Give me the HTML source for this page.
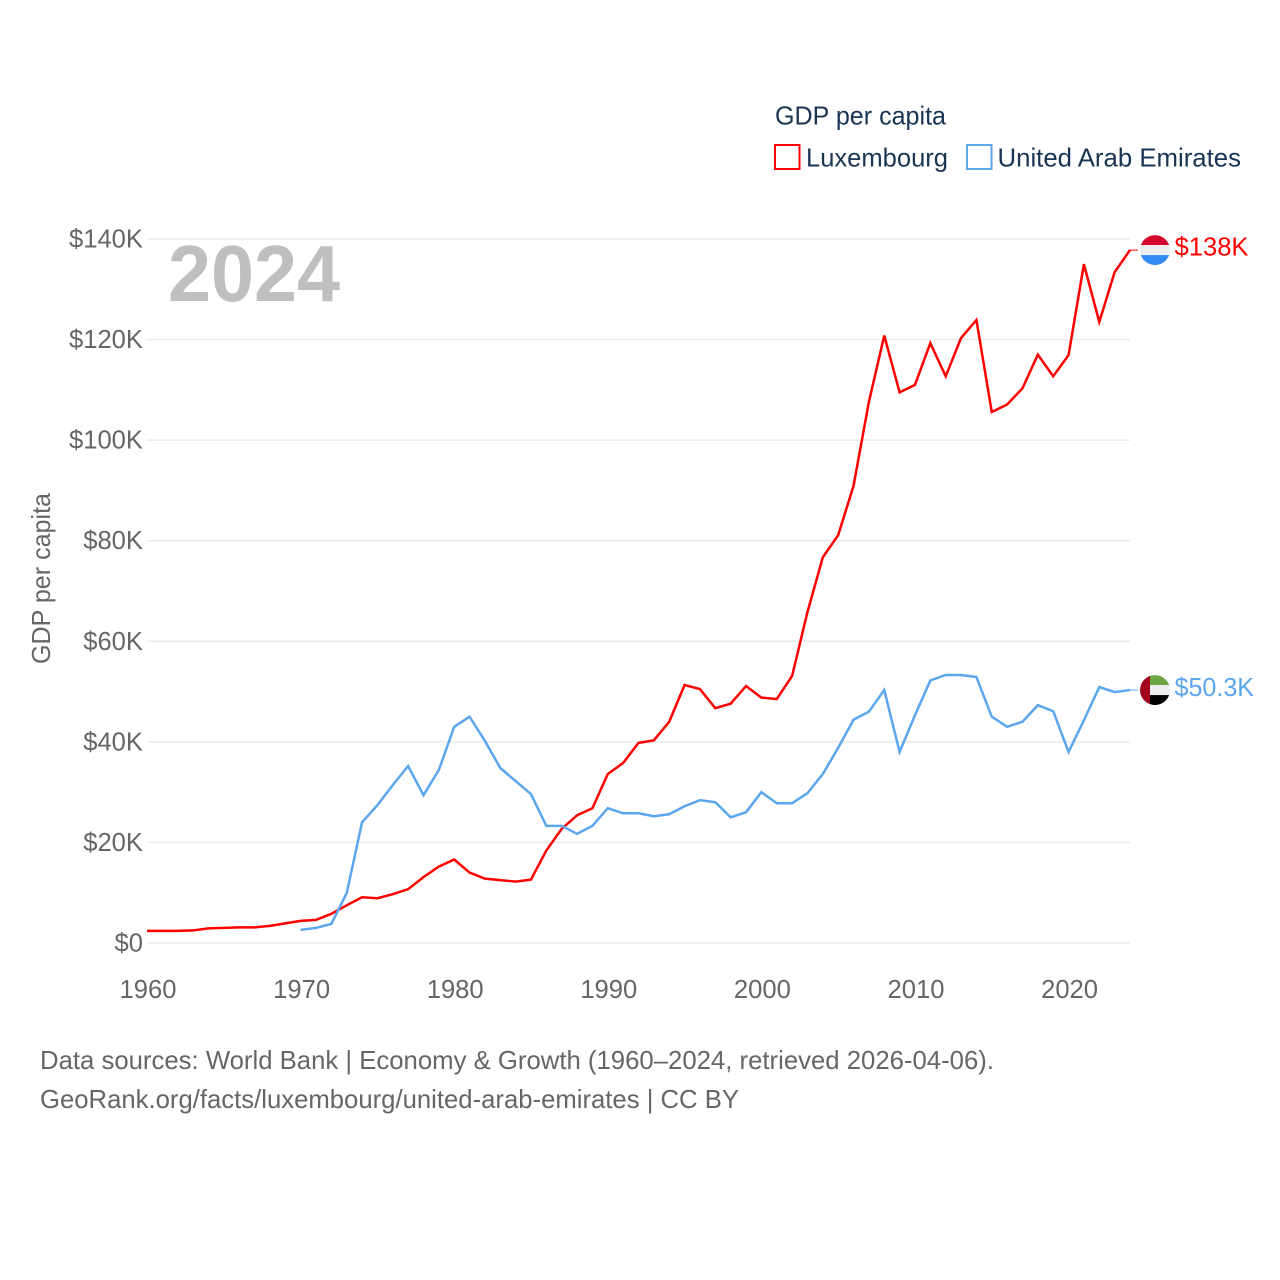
<!DOCTYPE html>
<html lang="en">
<head>
<meta charset="utf-8">
<title>GDP per capita: Luxembourg and United Arab Emirates</title>
<style>
html,body{margin:0;padding:0;background:#fff;width:1280px;height:1280px;overflow:hidden}
svg{display:block}
text{font-family:"Liberation Sans",sans-serif}
.tick{font-size:25.6px;fill:#666}
.legend{font-size:26px;fill:#1a3553}
.foot{font-size:25.6px;fill:#666}
</style>
</head>
<body>
<svg id="chart" width="1280" height="1280" viewBox="0 0 1280 1280" xmlns="http://www.w3.org/2000/svg">
  <defs>
    <clipPath id="flag-clip-lu"><circle id="clip-lu" cx="1155" cy="250" r="15"/></clipPath>
    <clipPath id="flag-clip-ae"><circle id="clip-ae" cx="1155" cy="690" r="15"/></clipPath>
  </defs>
  <g id="grid"></g>
  <g id="y-ticks"></g>
  <g id="x-ticks"></g>
  <text class="tick" transform="translate(50 664) rotate(-90)" textLength="171" lengthAdjust="spacingAndGlyphs">GDP per capita</text>
  <text x="168" y="301" font-size="80" font-weight="700" fill="#bfbfbf" textLength="172" lengthAdjust="spacingAndGlyphs">2024</text>
  <text class="legend" x="775" y="124.5" textLength="171" lengthAdjust="spacingAndGlyphs">GDP per capita</text>
  <g>
    <rect x="775" y="145" width="24.5" height="24" fill="none" stroke="#ff0000" stroke-width="2"/>
    <text class="legend" x="806" y="166.5" textLength="142" lengthAdjust="spacingAndGlyphs">Luxembourg</text>
  </g>
  <g>
    <rect x="967" y="145" width="24.5" height="24" fill="none" stroke="#5ca6ee" stroke-width="2"/>
    <text class="legend" x="997.5" y="166.5" textLength="243.5" lengthAdjust="spacingAndGlyphs">United Arab Emirates</text>
  </g>
  <path id="line-lu" fill="none" stroke="#ff0000" stroke-width="2.5" stroke-linejoin="miter"/>
  <path id="line-ae" fill="none" stroke="#5ca6ee" stroke-width="2.5" stroke-linejoin="miter"/>
  <line id="conn-lu" stroke="#ff0000" stroke-width="1"/>
  <line id="conn-ae" stroke="#5ca6ee" stroke-width="1"/>
  <g id="flag-lu" clip-path="url(#flag-clip-lu)">
    <rect id="lu-r" x="1140" width="30" height="10" fill="#d4082c"/>
    <rect id="lu-w" x="1140" width="30" height="10" fill="#eeeeee"/>
    <rect id="lu-b" x="1140" width="30" height="10" fill="#338af3"/>
  </g>
  <g id="flag-ae" clip-path="url(#flag-clip-ae)">
    <rect id="ae-g" x="1150" width="20" height="10" fill="#6da544"/>
    <rect id="ae-w" x="1150" width="20" height="10" fill="#eeeeee"/>
    <rect id="ae-k" x="1150" width="20" height="10" fill="#000000"/>
    <rect id="ae-r" x="1140" width="10" height="30" fill="#a2001d"/>
  </g>
  <text id="label-lu" x="1174.5" font-size="25.6" fill="#ff0000"></text>
  <text id="label-ae" x="1174.5" font-size="25.6" fill="#5ca6ee" textLength="79.5" lengthAdjust="spacingAndGlyphs"></text>
  <text class="foot" x="40" y="1069" textLength="954" lengthAdjust="spacingAndGlyphs">Data sources: World Bank | Economy &amp; Growth (1960–2024, retrieved 2026-04-06).</text>
  <text class="foot" x="40" y="1108" textLength="699" lengthAdjust="spacingAndGlyphs">GeoRank.org/facts/luxembourg/united-arab-emirates | CC BY</text>
</svg>
<script>
const firstYear = 1960;
const lastYear = 2024;
const uaeStartYear = 1970;
const yTickValues = [0, 20, 40, 60, 80, 100, 120, 140];
const yTickLabels = ['$0', '$20K', '$40K', '$60K', '$80K', '$100K', '$120K', '$140K'];
const xTickValues = [1960, 1970, 1980, 1990, 2000, 2010, 2020];
const endLabelLu = '$138K';
const endLabelAe = '$50.3K';
const luxembourg = [2.4,2.4,2.4,2.5,2.9,3.0,3.1,3.1,3.4,3.9,4.4,4.6,5.8,7.5,9.1,8.9,9.7,10.7,13.1,15.2,16.6,14.0,12.8,12.5,12.2,12.6,18.4,22.7,25.4,26.8,33.6,35.8,39.8,40.3,44.0,51.3,50.5,46.7,47.6,51.1,48.8,48.5,53.1,65.8,76.7,81.1,90.9,107.6,120.8,109.5,111.0,119.3,112.7,120.3,123.9,105.6,107.1,110.3,117.0,112.7,116.9,135.0,123.5,133.4,137.8];
const uae = [2.6,3.0,3.8,9.9,24.0,27.4,31.4,35.2,29.4,34.4,43.0,45.0,40.2,34.8,32.2,29.6,23.3,23.3,21.7,23.3,26.8,25.8,25.8,25.2,25.6,27.2,28.4,28.0,25.0,26.0,30.0,27.8,27.8,29.8,33.6,38.8,44.4,46.0,50.3,38.0,45.3,52.2,53.3,53.3,52.9,45.0,43.0,44.0,47.3,46.1,38.0,44.3,50.9,49.9,50.3];

const NS = 'http://www.w3.org/2000/svg';
const plotLeft = 147, plotRight = 1130, plotBottom = 943, plotTop = 239;
const xScale = year => plotLeft + (year - firstYear) / (lastYear - firstYear) * (plotRight - plotLeft);
const yScale = value => plotBottom - value / 140 * (plotBottom - plotTop);

function pathFrom(values, startYear) {
  return values.map((v, i) => (i ? 'L' : 'M') + xScale(startYear + i).toFixed(2) + ' ' + yScale(v).toFixed(2)).join(' ');
}

const grid = document.getElementById('grid');
const yTicks = document.getElementById('y-ticks');
const xTicks = document.getElementById('x-ticks');

yTickValues.forEach((v, i) => {
  const line = document.createElementNS(NS, 'line');
  
  
  line.setAttribute('x1', plotLeft);
  line.setAttribute('x2', plotRight);
  line.setAttribute('y1', yScale(v));
  line.setAttribute('y2', yScale(v));
  line.setAttribute('stroke', '#ebebeb');
  line.setAttribute('stroke-width', '1.5');
  grid.appendChild(line);

  const label = document.createElementNS(NS, 'text');
  
  
  label.setAttribute('class', 'tick');
  label.setAttribute('x', 143);
  label.setAttribute('y', yScale(v) + 8.5);
  label.setAttribute('text-anchor', 'end');
  label.textContent = yTickLabels[i];
  yTicks.appendChild(label);
});

xTickValues.forEach(year => {
  const label = document.createElementNS(NS, 'text');
  
  
  label.setAttribute('class', 'tick');
  label.setAttribute('x', xScale(year) + 1);
  label.setAttribute('y', 998);
  label.setAttribute('text-anchor', 'middle');
  label.textContent = String(year);
  xTicks.appendChild(label);
});

document.getElementById('line-lu').setAttribute('d', pathFrom(luxembourg, firstYear));
document.getElementById('line-ae').setAttribute('d', pathFrom(uae, uaeStartYear));

function placeEnd(suffix, value, text) {
  const y = yScale(value);
  const conn = document.getElementById('conn-' + suffix);
  conn.setAttribute('x1', plotRight);
  conn.setAttribute('x2', 1138);
  conn.setAttribute('y1', y);
  conn.setAttribute('y2', y);
  document.getElementById('clip-' + suffix).setAttribute('cy', y);
  const label = document.getElementById('label-' + suffix);
  label.setAttribute('y', (suffix === 'lu' ? y + 5.5 : y + 6));
  label.textContent = text;
  return y;
}

const yLu = placeEnd('lu', luxembourg[luxembourg.length - 1], endLabelLu);
const yAe = placeEnd('ae', uae[uae.length - 1], endLabelAe);

['lu-r', 'lu-w', 'lu-b'].forEach((id, i) => {
  document.getElementById(id).setAttribute('y', yLu - 15 + i * 10);
});
['ae-g', 'ae-w', 'ae-k'].forEach((id, i) => {
  document.getElementById(id).setAttribute('y', yAe - 15 + i * 10);
});
document.getElementById('ae-r').setAttribute('y', yAe - 15);
</script>
</body>
</html>
